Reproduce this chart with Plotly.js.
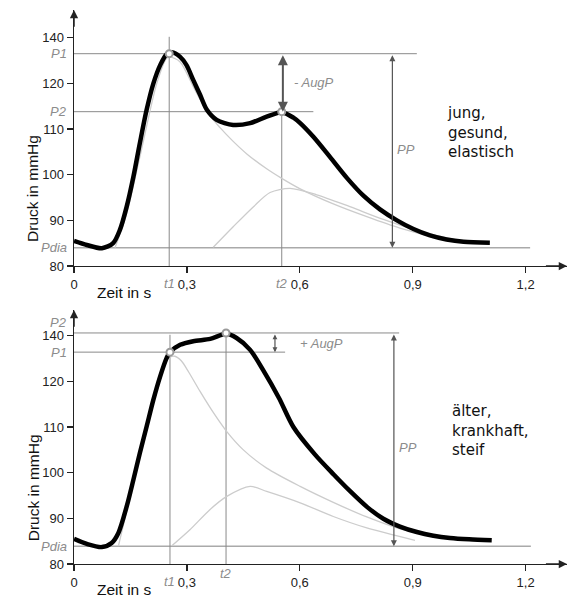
<!DOCTYPE html>
<html>
<head>
<meta charset="utf-8">
<script src="https://cdn.plot.ly/plotly-3.0.1.min.js"></script>
<style>html,body{margin:0;padding:0;background:#fff}</style>
</head>
<body>
<div id="chart" style="width:576px;height:598px"></div>
<script>
// ---------- tick labels ----------
const xTickVals = [0, 0.3, 0.6, 0.9, 1.2];
const xTickText = ['0', '0,3', '0,6', '0,9', '1,2'];
const yTickVals = [80, 90, 100, 110, 120, 130];
const yTickText = ['80', '90', '100', '110', '120', '140'];

// ---------- top panel: jung, gesund, elastisch ----------
const tTop = [0, 0.034, 0.074, 0.104, 0.122, 0.140, 0.158, 0.175, 0.193, 0.211, 0.229, 0.246, 0.260, 0.282, 0.299, 0.317, 0.335, 0.353, 0.379, 0.423, 0.468, 0.512, 0.552, 0.583, 0.601, 0.636, 0.680, 0.725, 0.769, 0.813, 0.858, 0.902, 0.946, 0.990, 1.035, 1.105];
const pTop = [85.5, 84.6, 83.9, 85.0, 87.9, 93.0, 99.6, 106.9, 114.2, 120.0, 124.0, 126.4, 126.8, 125.8, 124.0, 120.7, 117.5, 114.2, 112.0, 110.9, 111.3, 112.7, 113.7, 112.5, 111.3, 108.3, 103.9, 99.3, 95.4, 92.4, 90.0, 88.1, 86.7, 85.8, 85.3, 85.1];
const tFwdTop = [0.109, 0.140, 0.175, 0.220, 0.246, 0.255, 0.282, 0.317, 0.353, 0.388, 0.423, 0.460, 0.512, 0.552, 0.601, 0.689, 0.778, 0.866, 0.955, 1.030, 1.060];
const pFwdTop = [84.0, 91.5, 103.9, 120.0, 125.5, 125.8, 124.7, 119.3, 113.8, 110.3, 107.3, 104.5, 101.3, 99.2, 96.9, 93.6, 90.8, 88.3, 86.4, 85.4, 85.2];
const tRefTop = [0.370, 0.423, 0.477, 0.521, 0.574, 0.645, 0.733, 0.822, 0.911, 0.999, 1.040];
const pRefTop = [84.1, 88.6, 93.0, 96.1, 97.0, 95.6, 93.0, 90.2, 87.8, 86.0, 85.3];
const P1Top = 126.5, P2Top = 113.8, PdiaTop = 84.0, t1Top = 0.253, t2Top = 0.552;

// ---------- bottom panel: älter, krankhaft, steif ----------
const tBot = [0, 0.034, 0.074, 0.100, 0.118, 0.140, 0.158, 0.175, 0.193, 0.211, 0.229, 0.246, 0.255, 0.282, 0.317, 0.362, 0.404, 0.432, 0.468, 0.503, 0.545, 0.583, 0.640, 0.690, 0.733, 0.780, 0.822, 0.866, 0.911, 0.955, 0.999, 1.050, 1.110];
const pBot = [85.5, 84.4, 83.7, 84.6, 86.8, 92.6, 98.5, 104.3, 110.1, 116.0, 121.1, 125.1, 126.4, 128.0, 128.8, 129.3, 130.4, 129.5, 126.9, 122.4, 116.3, 110.0, 104.0, 99.6, 96.0, 92.4, 89.9, 88.2, 87.0, 86.2, 85.7, 85.4, 85.2];
const tFwdBot = [0.118, 0.175, 0.230, 0.250, 0.268, 0.285, 0.305, 0.335, 0.370, 0.406, 0.450, 0.512, 0.601, 0.689, 0.778, 0.866, 0.955, 1.000];
const pFwdBot = [83.9, 103.5, 120.8, 125.0, 125.5, 124.5, 122.0, 117.8, 113.2, 109.0, 105.0, 101.0, 97.0, 93.5, 90.3, 87.7, 86.1, 85.6];
const tRefBot = [0.260, 0.308, 0.361, 0.406, 0.468, 0.512, 0.601, 0.689, 0.778, 0.906];
const pRefBot = [84.0, 87.5, 91.9, 94.8, 97.0, 95.9, 93.4, 90.4, 87.9, 85.2];
const P1Bot = 126.4, P2Bot = 130.6, PdiaBot = 83.9, t1Bot = 0.255, t2Bot = 0.404;

const GRAYTXT = '#8c8c8c';
const REF = '#8a8a8a';
const WAVE = '#cccccc';
const AX = '#222222';

function line(x, y, xa, ya, color, width, shape) {
  return {type: 'scatter', mode: 'lines', x: x, y: y, xaxis: xa, yaxis: ya,
    line: {color: color, width: width, shape: shape || 'linear', smoothing: 0.8},
    hoverinfo: 'skip', showlegend: false, cliponaxis: false};
}

function panelTraces(xa, ya, t, p, tf, pf, tr, pr, P1, P2, Pdia, t1, t2, ext) {
  return [
    line([0, ext.P1], [P1, P1], xa, ya, REF, 1),
    line([0, ext.P2], [P2, P2], xa, ya, REF, 1),
    line([0, ext.Pdia], [Pdia, Pdia], xa, ya, '#aaaaaa', 1.6),
    line([t1, t1], [80, ext.t1top], xa, ya, REF, 1),
    line([t2, t2], [80, ext.t2top], xa, ya, REF, 1),
    line(tf, pf, xa, ya, WAVE, 1.3, 'spline'),
    line(tr, pr, xa, ya, WAVE, 1.3, 'spline'),
    line(t, p, xa, ya, '#000000', 4.5, 'spline'),
    {type: 'scatter', mode: 'markers', x: [t1, t2], y: [ext.m1, ext.m2], xaxis: xa, yaxis: ya,
      marker: {size: 7, color: '#ffffff', line: {color: '#9a9a9a', width: 2}},
      hoverinfo: 'skip', showlegend: false, cliponaxis: false}
  ];
}

const traces = [].concat(
  panelTraces('x', 'y', tTop, pTop, tFwdTop, pFwdTop, tRefTop, pRefTop, P1Top, P2Top, PdiaTop, t1Top, t2Top,
    {P1: 0.911, P2: 0.636, Pdia: 1.212, t1top: 130.2, t2top: P2Top, m1: P1Top, m2: P2Top}),
  panelTraces('x2', 'y2', tBot, pBot, tFwdBot, pFwdBot, tRefBot, pRefBot, P1Bot, P2Bot, PdiaBot, t1Bot, t2Bot,
    {P1: 0.561, P2: 0.864, Pdia: 1.214, t1top: 130.2, t2top: P2Bot, m1: P1Bot, m2: P2Bot})
);

const XR = [0, 1.31];
const YR1 = [80, 136.07];
const YR2 = [80, 135.63];
const tickFont = {family: 'Liberation Sans, Arial, sans-serif', size: 13, color: AX};

function xAxis(anchor) {
  return {range: XR, anchor: anchor, tickvals: xTickVals, ticktext: xTickText,
    ticks: 'outside', ticklen: 6, tickwidth: 1.4, tickcolor: AX,
    showline: true, linecolor: AX, linewidth: 1.4, showgrid: false, zeroline: false,
    tickfont: tickFont, fixedrange: true};
}
function yAxis(anchor, range, domain) {
  return {range: range, anchor: anchor, domain: domain, tickvals: yTickVals, ticktext: yTickText,
    ticks: 'outside', ticklen: 6, tickwidth: 1.4, tickcolor: AX,
    showline: true, linecolor: AX, linewidth: 1.4, showgrid: false, zeroline: false,
    tickfont: tickFont, fixedrange: true};
}
function xOver(over, anchor) {
  return {range: XR, overlaying: over, anchor: anchor, tickvals: xTickVals.slice(1),
    ticks: 'inside', ticklen: 6, tickwidth: 1.4, tickcolor: AX, showticklabels: false,
    showline: false, showgrid: false, zeroline: false, fixedrange: true};
}
function yOver(over, anchor, range) {
  return {range: range, overlaying: over, anchor: anchor, side: 'left', tickvals: yTickVals.slice(1),
    ticks: 'inside', ticklen: 6, tickwidth: 1.4, tickcolor: AX, showticklabels: false,
    showline: false, showgrid: false, zeroline: false, fixedrange: true};
}

const italicGray = {family: 'Liberation Sans, Arial, sans-serif', size: 13, color: GRAYTXT};
const labelFont = {family: 'Liberation Sans, Arial, sans-serif', size: 15.5, color: '#111'};
const bodyFont = {family: 'DejaVu Sans, Verdana, sans-serif', size: 15, color: '#111'};

function txt(xref, yref, x, y, text, font, opts) {
  return Object.assign({xref: xref, yref: yref, x: x, y: y, text: text, font: font, showarrow: false}, opts || {});
}
function arrow(xref, yref, x, y, ax, ay, opts) {
  return Object.assign({xref: xref, yref: yref, axref: xref, ayref: yref, x: x, y: y, ax: ax, ay: ay,
    text: '', showarrow: true, arrowhead: 2, arrowsize: 1, arrowwidth: 1.3, arrowcolor: '#444'}, opts || {});
}

function panelAnn(xr, yr, yTop, P1, P2, Pdia, t1, t2, o) {
  return [
    arrow(xr, yr, XR[1], 80, XR[1] - 0.06, 80, {arrowhead: 2, arrowsize: 1.1, arrowwidth: 1.5, arrowcolor: AX}),
    arrow(xr, yr, 0, yTop, 0, yTop - 4, {arrowhead: 2, arrowsize: 1.1, arrowwidth: 1.5, arrowcolor: AX}),
    txt(xr, yr, 0, o.P1y, '<i>P1</i>', italicGray, {xanchor: 'right', xshift: -5}),
    txt(xr, yr, 0, o.P2y, '<i>P2</i>', italicGray, {xanchor: 'right', xshift: -5}),
    txt(xr, yr, 0, Pdia, '<i>Pdia</i>', italicGray, {xanchor: 'right', xshift: -5}),
    txt(xr, yr, t1, 80, '<i>t1</i>', italicGray, {xanchor: 'center', yanchor: 'middle', yshift: -17}),
    txt(xr, yr, t2, 80, '<i>t2</i>', italicGray, {xanchor: 'center', yanchor: 'middle', yshift: o.t2shift}),
    arrow(xr, yr, o.augX, o.augTo, o.augX, o.augFrom, {arrowside: 'end+start', arrowwidth: o.augW, arrowcolor: '#555', arrowsize: o.augS}),
    txt(xr, yr, o.augLx, o.augLy, o.augText, italicGray, {xanchor: 'left'}),
    arrow(xr, yr, o.ppX, Pdia, o.ppX, o.ppTop, {arrowside: 'end+start', arrowwidth: 1.2, arrowcolor: '#555'}),
    txt(xr, yr, o.ppX, 105.5, '<i>PP</i>', italicGray, {xanchor: 'left', xshift: 3}),
    txt(xr, yr, o.descX, 109.2, o.desc, bodyFont, {xanchor: 'left', yanchor: 'middle', align: 'left'}),
    txt('paper', yr, -0.0832, o.yTitleY, 'Druck in mmHg', labelFont, {textangle: -90, xanchor: 'center', yanchor: 'middle'}),
    txt(xr, yr, 0.056, 80, 'Zeit in s', labelFont, {xanchor: 'left', yanchor: 'middle', yshift: o.xTitleShift})
  ];
}

const annotations = [].concat(
  panelAnn('x', 'y', YR1[1], P1Top, P2Top, PdiaTop, t1Top, t2Top, {
    P1y: P1Top, P2y: P2Top, t2shift: -17,
    augX: 0.555, augFrom: P1Top, augTo: P2Top, augW: 2, augS: 1, augLx: 0.578, augLy: 120.2, augText: '<i>- AugP</i>',
    ppX: 0.846, ppTop: P1Top, descX: 0.986, desc: 'jung,<br>gesund,<br>elastisch',
    yTitleY: 97.1, xTitleShift: -26.5
  }),
  panelAnn('x2', 'y2', YR2[1], P1Bot, P2Bot, PdiaBot, t1Bot, t2Bot, {
    P1y: P1Bot, P2y: 132.9, t2shift: -9,
    augX: 0.534, augFrom: P2Bot, augTo: P1Bot, augW: 1.2, augS: 0.8, augLx: 0.595, augLy: 128.2, augText: '<i>+ AugP</i>',
    ppX: 0.850, ppTop: P2Bot, descX: 0.999, desc: 'älter,<br>krankhaft,<br>steif',
    yTitleY: 96.8, xTitleShift: -25.5
  })
);

const layout = {
  width: 576, height: 598,
  margin: {l: 74, r: 9, t: 10, b: 34},
  paper_bgcolor: '#ffffff', plot_bgcolor: 'rgba(0,0,0,0)',
  showlegend: false,
  xaxis: xAxis('y'),
  yaxis: yAxis('x', YR1, [0.5379, 1]),
  xaxis2: xAxis('y2'),
  yaxis2: yAxis('x2', YR2, [0, 0.4585]),
  xaxis3: xOver('x', 'y'),
  yaxis3: yOver('y', 'x', YR1),
  xaxis4: xOver('x2', 'y2'),
  yaxis4: yOver('y2', 'x2', YR2),
  annotations: annotations
};

Plotly.newPlot('chart', traces, layout, {displayModeBar: false, staticPlot: true});
</script>
</body>
</html>
